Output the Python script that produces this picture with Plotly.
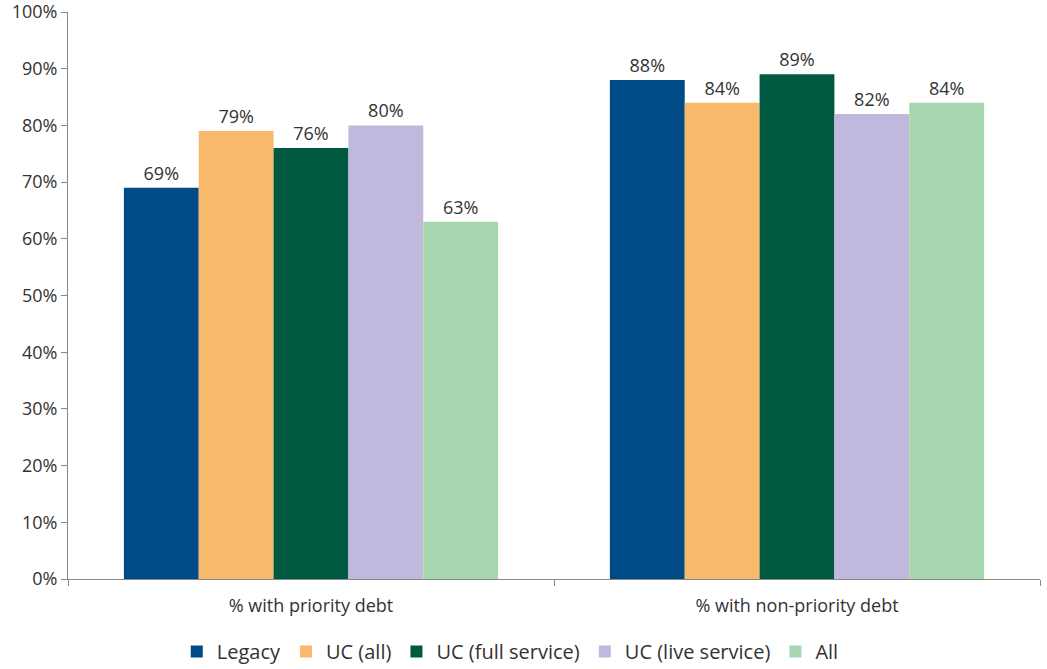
import plotly.graph_objects as go

categories = ["% with priority debt", "% with non-priority debt"]
series_names = ["Legacy", "UC (all)", "UC (full service)", "UC (live service)", "All"]
legacy = [69, 88]
uc_all = [79, 84]
uc_full = [76, 89]
uc_live = [80, 82]
all_claimants = [63, 84]
colors = ["#004A87", "#F9B96A", "#005A41", "#C0B9DD", "#A6D7AE"]

values = [legacy, uc_all, uc_full, uc_live, all_claimants]

fig = go.Figure()
for name, vals, col in zip(series_names, values, colors):
    fig.add_trace(go.Bar(
        x=categories,
        y=vals,
        name=name,
        marker=dict(color=col, line=dict(width=0)),
        text=[f"{v}%" for v in vals],
        textposition="outside",
        textfont=dict(size=18, color="#333333"),
        cliponaxis=False,
    ))

fig.update_layout(
    barmode="group",
    bargap=0.23,
    bargroupgap=0,
    width=1047,
    height=669,
    margin=dict(l=68, r=7, t=12, b=90, autoexpand=False),
    plot_bgcolor="white",
    paper_bgcolor="white",
    font=dict(family="Open Sans", color="#333333", size=17),
    showlegend=True,
    legend=dict(
        orientation="h",
        x=0.455,
        xanchor="center",
        y=-0.128,
        yanchor="middle",
        font=dict(size=20, color="#333333"),
        traceorder="normal",
        itemwidth=30,
    ),
    yaxis=dict(
        range=[0, 100],
        tickvals=[0, 10, 20, 30, 40, 50, 60, 70, 80, 90, 100],
        ticktext=[f"{v}%" for v in range(0, 101, 10)],
        showgrid=False,
        showline=True,
        linecolor="#888888",
        linewidth=1,
        ticks="outside",
        ticklen=6,
        tickcolor="#888888",
        tickfont=dict(size=18, color="#333333"),
        ticklabeloverflow="allow",
        zeroline=False,
        automargin=False,
    ),
    xaxis=dict(
        showline=True,
        linecolor="#888888",
        linewidth=1,
        ticks="outside",
        tickson="boundaries",
        ticklen=6,
        tickcolor="#888888",
        tickfont=dict(size=18, color="#333333"),
        ticklabelstandoff=10,
        showgrid=False,
        automargin=False,
    ),
)

fig.write_html("out.html")
